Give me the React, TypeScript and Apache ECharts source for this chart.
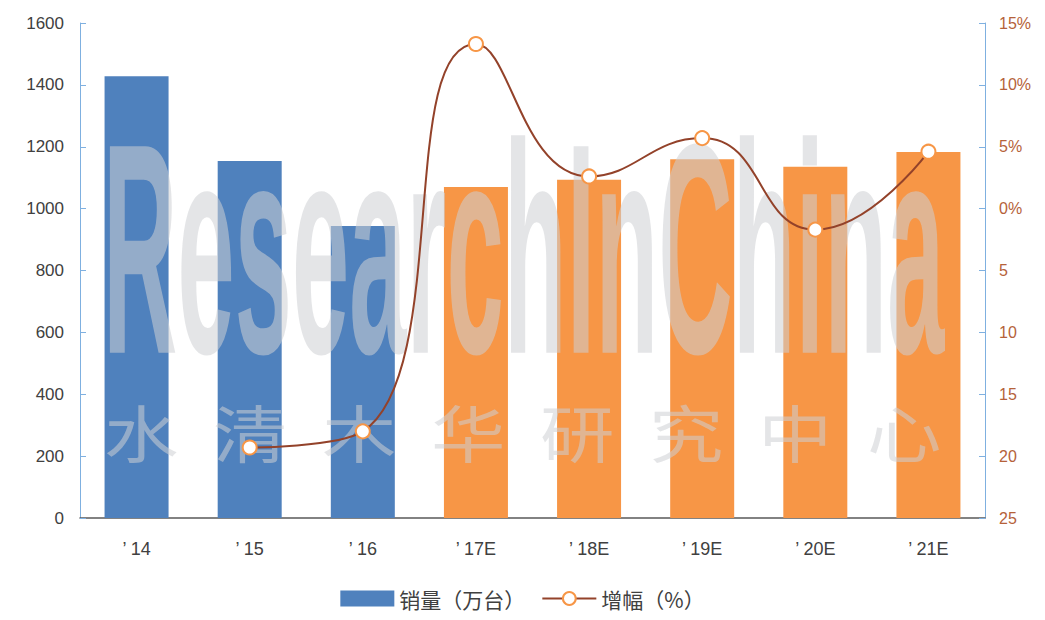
import React, { useEffect, useRef } from "react";
import * as echarts from "echarts";

const categories = ["’ 14", "’ 15", "’ 16", "’ 17E", "’ 18E", "’ 19E", "’ 20E", "’ 21E"];
const sales = [1428, 1154, 944, 1070, 1093, 1160, 1135, 1183];
const growth: (number | null)[] = [null, -19.3, -18.0, 13.3, 2.6, 5.7, -1.7, 4.6];
const estimated = [false, false, false, true, true, true, true, true];
const watermarkCN = ["水", "清", "木", "华", "研", "究", "中", "心"];

const BLUE = "#4f81bd";
const ORANGE = "#f79646";
const LINE = "#93422a";

export default function App() {
  const ref = useRef<HTMLDivElement>(null);
  useEffect(() => {
    if (!ref.current) return;
    const chart = echarts.init(ref.current, undefined, { renderer: "svg" });
    const wmColor = "rgba(205,208,212,0.55)";
    chart.setOption({
      animation: false,
      backgroundColor: "#ffffff",
      grid: { left: 80, right: 60, top: 23, bottom: 102 },
      legend: {
        bottom: 6,
        left: "center",
        itemGap: 16,
        textStyle: { fontSize: 21, color: "#404040", fontFamily: "Noto Sans CJK SC" },
        data: [
          { name: "销量（万台）", icon: "rect", itemStyle: { color: BLUE } },
          { name: "增幅（%）" },
        ],
        itemWidth: 54,
        itemHeight: 16,
      },
      xAxis: {
        type: "category",
        data: categories,
        axisLine: { lineStyle: { color: "#595959", width: 1.5 } },
        axisTick: { show: false },
        axisLabel: { fontSize: 18, color: "#404040", margin: 22, fontFamily: "Liberation Sans" },
      },
      yAxis: [
        {
          type: "value",
          min: 0,
          max: 1600,
          interval: 200,
          splitLine: { show: false },
          axisLine: { show: true, lineStyle: { color: "#7fb0e0" } },
          axisTick: { show: true, inside: true, length: 6, lineStyle: { color: "#7fb0e0" } },
          axisLabel: {
            fontSize: 17,
            color: "#404040",
            margin: 16,
            fontFamily: "Liberation Sans",
            formatter: (v: number) => String(v),
          },
        },
        {
          type: "value",
          min: -25,
          max: 15,
          interval: 5,
          splitLine: { show: false },
          axisLine: { show: true, lineStyle: { color: "#7fb0e0" } },
          axisTick: { show: true, inside: true, length: 6, lineStyle: { color: "#7fb0e0" } },
          axisLabel: {
            fontSize: 16,
            color: "#b5623a",
            margin: 14,
            fontFamily: "Liberation Sans",
            formatter: (v: number) => (v >= 0 ? `${v}%` : `${-v}`),
          },
        },
      ],
      series: [
        {
          name: "销量（万台）",
          type: "bar",
          barWidth: 64,
          itemStyle: { color: BLUE },
          data: sales.map((v, i) => ({ value: v, itemStyle: { color: estimated[i] ? ORANGE : BLUE } })),
          z: 2,
        },
        {
          name: "增幅（%）",
          type: "line",
          yAxisIndex: 1,
          smooth: 0.5,
          connectNulls: false,
          symbol: "circle",
          symbolSize: 14,
          lineStyle: { color: LINE, width: 2 },
          itemStyle: { color: "#ffffff", borderColor: ORANGE, borderWidth: 2 },
          data: growth,
          z: 6,
        },
      ],
      graphic: [
        {
          type: "text",
          x: 103,
          y: 99,
          z: 3,
          silent: true,
          scaleX: 1.03,
          scaleY: 3.0,
          style: {
            text: "ResearchInChina",
            fontSize: 100,
            fontWeight: "bold",
            fontFamily: "Liberation Sans",
            fill: wmColor,
            verticalAlign: "top",
          },
        },
        ...watermarkCN.map((ch, i) => ({
          type: "text",
          x: 104 + i * 109,
          y: 400,
          z: 3,
          silent: true,
          scaleX: 1.2,
          style: {
            text: ch,
            fontSize: 62,
            fontFamily: "Noto Sans CJK SC",
            fill: wmColor,
            verticalAlign: "top",
          },
        })),
      ],
    });
    return () => chart.dispose();
  }, []);
  return <div ref={ref} style={{ position: "fixed", left: 0, top: 0, width: 1045, height: 620 }} />;
}
